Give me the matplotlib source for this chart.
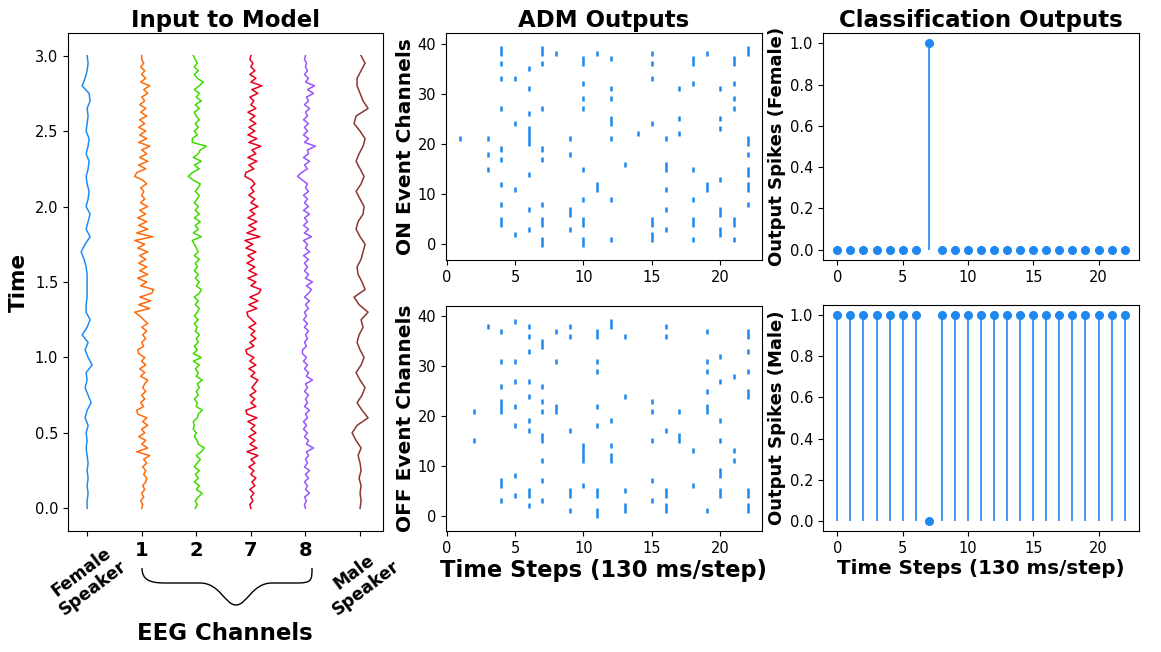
import numpy as np
import matplotlib
matplotlib.use("Agg")
import matplotlib.pyplot as plt
from matplotlib.path import Path
from matplotlib.patches import PathPatch

# ---- input signals (offsets, arbitrary units) ----
female_speaker = [0, 0, 1, 0, 1, 0, 1, 0, -1, 0, -1, 1, -2, 0, 4, 1, -2, 0, -1, 5, 1,
                  -2, 1, -5, 0, 3, -1, -1, 0, 0, 0, 0, -1, -3, -6, -2, 3, -1, 1, 3, -1,
                  1, 2, 0, -1, 1, 2, -1, 1, 2, -1, 0, 1, 0, 3, 2, -5, -2, 0, 1, 0]
male_speaker = [0, 1, 0, 1, -1, 1, 0, -2, 1, -4, -8, -3, 8, 2, -3, 2, 5, 0, -4, 1, 4,
                0, -3, -1, 3, 1, 8, -1, -6, 5, 2, -2, -3, 1, 3, 5, 0, -4, -2, 3, 4,
                0, -4, 1, 4, 0, -4, -1, 3, 5, 0, -6, -4, 8, 3, 0, -3, -3, 1, 5, 1]
eeg_ch1 = [0, 1, -1, 2, 0, 3, 1, 4, 5, 2, 4, 1, 5, 2, 8, -5, 6, 0, 4, -3,
           3, 0, 6, 1, 5, -4, -5, 2, -1, 3, 0, 4, 1, 3, 6, -1, 3, -2, 4, 0,
           3, -3, -4, 2, 0, 4, 1, 5, 0, 6, 2, -2, -7, 8, -3, 9, -2, 10, 12, -1,
           5, -4, 6, -2, 5, -3, 4, -2, 6, -4, 3, -7, 11, -5, 6, -3, 5, -4, 4, -2,
           6, -1, 3, 0, 2, -1, 5, 1, -7, -5, 4, -3, 6, -2, 5, 0, 8, -3, 5, -2,
           4, -3, 3, -2, 5, -1, 4, -2, 3, 0, 6, 2, 8, -1, 4, 0, 3, -1, 2, 0, 0]
eeg_ch2 = [-1, 1, -1, 2, 6, 0, 3, -2, 2, -1, 3, -2, 1, 4, 0, 5, 8, 2, 1, -2,
           0, -3, -2, -3, 1, 2, 6, 0, 1, -2, 2, 0, 3, 1, 6, 0, 2, -1, 3, -3,
           5, -3, 1, -2, 2, 0, 3, -1, 1, -2, 2, -2, 1, 3, -1, 2, -2, 3, 5, 0,
           3, -1, 2, -2, 1, -1, 3, -2, 2, 0, -2, -4, 5, -3, 2, -1, 4, -2, 3, -1,
           2, -2, 1, 3, -1, 2, 4, -3, -8, -4, 3, -2, 5, -3, 2, 4, 10, -4, -4, 1,
           -2, 2, -1, 3, 0, -2, 3, -1, 5, 0, 3, -2, 3, 7, 1, -2, 2, -2, 1, -1, -3]
eeg_ch7 = [0, -1, 2, 0, 3, -1, 4, 1, 5, 0, 3, -2, 4, 0, 7, -4, 6, -1, 4, -2,
           5, 0, 4, -3, 6, -4, -5, 5, 0, 4, -1, 5, 1, 4, 7, 0, 4, -2, 5, -1,
           3, -4, -5, 3, -1, 5, 0, 4, -2, 5, 1, -3, -4, 6, -2, 7, -1, 8, 10, 0,
           5, -3, 6, -2, 4, -4, 3, -3, 5, -5, 2, -6, 9, -4, 5, -2, 6, -3, 4, -1,
           7, 0, 4, -2, 3, 0, 4, 1, -6, -5, 3, -2, 6, -3, 5, 1, 10, -2, 6, -3,
           4, -2, 5, -1, 4, -3, 5, 0, 3, -1, 7, 1, 11, 0, 5, -1, 4, 0, 2, -1, 0]
eeg_ch8 = [0, -1, 1, -1, 4, 0, 2, -1, 3, 0, 4, -1, 2, 0, 3, 1, 8, 1, 3, -1,
           2, -2, 1, -2, 2, 0, 4, -1, 2, 0, 3, -1, 2, 0, 7, 1, 3, -1, 2, -2,
           1, -3, -3, 1, -1, 2, 0, 3, -1, 2, -2, 1, -1, 3, 0, 4, -1, 3, 6, 1,
           7, 0, 3, -1, 2, -1, 3, -2, 4, 0, 2, -2, 6, -1, 3, -2, 2, -1, 4, -2,
           3, -1, 2, -2, 3, 0, 2, -3, -8, -4, 2, -1, 4, -2, 3, 2, 10, -1, 3, -2,
           2, -1, 3, -2, 2, 0, 4, -1, 3, 1, 8, 2, 9, 0, 3, -1, 2, 0, 1, -1, 0]

trace_labels = ["Female\nSpeaker", "1", "2", "7", "8", "Male\nSpeaker"]
trace_colors = ["#1e8cf5", "#ff6a0a", "#3ddc00", "#e8001e", "#9a55ff", "#8c3535"]

# ---- ADM events: channels that fired at each time step ----
on_events = [[], [21], [], [15, 18, 21],
             [4, 5, 8, 12, 17, 19, 27, 33, 36, 38, 39],
             [2, 11, 24, 33],
             [3, 7, 14, 20, 21, 22, 23, 26, 31, 35],
             [0, 1, 4, 5, 8, 17, 19, 27, 36, 38, 39],
             [38],
             [3, 6, 7, 18, 21],
             [0, 1, 4, 5, 9, 15, 27, 29, 32, 36, 37],
             [11, 12, 38],
             [1, 9, 21, 24, 25, 29, 31, 37],
             [16], [22],
             [1, 2, 4, 5, 24, 33, 36, 38],
             [3, 7, 11, 15, 16, 21],
             [22, 25, 31],
             [1, 4, 5, 9, 15, 32, 36, 37],
             [11, 12, 38],
             [2, 3, 6, 7, 13, 23, 25, 31],
             [1, 4, 5, 27, 29, 32, 36, 37],
             [8, 11, 12, 14, 15, 18, 20, 21, 38, 39]]
off_events = [[], [], [15, 21], [38],
              [3, 6, 7, 21, 22, 23, 26, 31, 37],
              [4, 8, 18, 22, 27, 31, 39],
              [2, 4, 5, 17, 19, 24, 27, 33, 36, 38],
              [3, 7, 11, 15, 16, 21, 23, 26, 34, 35],
              [21, 22, 31, 37],
              [1, 4, 5, 17, 36, 38],
              [6, 11, 12, 13, 14],
              [0, 1, 4, 5, 18, 22, 29, 31, 36, 37],
              [11, 12, 14, 19, 38, 39],
              [1, 2, 5, 24, 36],
              [],
              [3, 7, 15, 21, 23],
              [1, 2, 4, 5, 17, 36, 38],
              [15, 16, 21],
              [6, 13],
              [1, 21, 22, 25, 29, 31, 37],
              [4, 5, 8, 9, 15, 19, 27, 32],
              [11, 13, 28],
              [1, 2, 4, 5, 24, 25, 29, 33, 36, 37]]

# ---- classifier output spikes ----
female_spikes = [0, 0, 0, 0, 0, 0, 0, 1, 0, 0, 0, 0, 0, 0, 0, 0, 0, 0, 0, 0, 0, 0, 0]
male_spikes = [1, 1, 1, 1, 1, 1, 1, 0, 1, 1, 1, 1, 1, 1, 1, 1, 1, 1, 1, 1, 1, 1, 1]

blue = "#1e88f0"
tick_fs = 10.5
W, H = 1161, 652
fig = plt.figure(figsize=(W / 100, H / 100), dpi=100)


def box(l, t, r, b):
    return [l / W, 1 - b / H, (r - l) / W, (b - t) / H]


def runs(chans):
    # group neighbouring channels so they draw as one unbroken stroke
    out = []
    for c in sorted(chans):
        if out and c == out[-1][1] + 1:
            out[-1][1] = c
        else:
            out.append([c, c])
    return out


# ---------------- left: input to model ----------------
ax = fig.add_axes(box(68, 33, 383, 531))
signals = [female_speaker, eeg_ch1, eeg_ch2, eeg_ch7, eeg_ch8, male_speaker]
scale = 0.0183
for i, (sig, col) in enumerate(zip(signals, trace_colors)):
    t = np.linspace(0, 3, len(sig))
    ax.plot(i + scale * np.array(sig), t, color=col, lw=1.1)
ax.set_xlim(-0.35, 5.42)
ax.set_xticks(range(6))
ax.set_xticklabels(trace_labels)
for k, lab in enumerate(ax.get_xticklabels()):
    if k in (0, 5):
        lab.set_rotation(37)
        lab.set_fontsize(12.3)
    else:
        lab.set_fontsize(14)
    lab.set_fontweight("bold")
ax.tick_params(axis="y", labelsize=tick_fs)
ax.set_ylabel("Time", fontsize=15.5, fontweight="bold", labelpad=4)
ax.set_title("Input to Model", fontsize=16.5, fontweight="bold", pad=4)

# curly brace under the EEG channels
pts = [(142, 568), (142, 580), (150, 583), (165, 583), (200, 583),
       (220, 583), (225, 605), (236, 605), (247, 605), (252, 583), (272, 583),
       (297, 583), (312, 583), (312, 580), (312, 568)]
codes = [Path.MOVETO, Path.CURVE4, Path.CURVE4, Path.CURVE4, Path.LINETO,
         Path.CURVE4, Path.CURVE4, Path.CURVE4, Path.CURVE4, Path.CURVE4, Path.CURVE4,
         Path.LINETO, Path.CURVE4, Path.CURVE4, Path.CURVE4]
brace = Path([(x / W, 1 - y / H) for x, y in pts], codes)
fig.add_artist(PathPatch(brace, transform=fig.transFigure, fc="none", ec="black", lw=1.0))
fig.text(225 / W, 1 - 633 / H, "EEG Channels", ha="center", va="center",
         fontsize=16.5, fontweight="bold")

# ---------------- middle: ADM rasters ----------------
ax_on = fig.add_axes(box(446, 33, 762, 260))
ax_off = fig.add_axes(box(446, 306, 762, 531))
for a, events, lab in [(ax_on, on_events, "ON Event Channels"),
                       (ax_off, off_events, "OFF Event Channels")]:
    for step, chans in enumerate(events):
        for lo, hi in runs(chans):
            a.vlines(step, lo - 0.5, hi + 0.5, color=blue, lw=1.8)
    a.set_xlim(-0.05, 23.05)
    a.set_ylim(-3.1, 42.1)
    a.set_xticks([0, 5, 10, 15, 20])
    a.set_yticks([0, 10, 20, 30, 40])
    a.tick_params(labelsize=tick_fs)
    a.set_ylabel(lab, fontsize=14.5, fontweight="bold", labelpad=2)
ax_on.set_title("ADM Outputs", fontsize=16.5, fontweight="bold", pad=4)
ax_off.set_xlabel("Time Steps (130 ms/step)", fontsize=16.3, fontweight="bold", labelpad=2)

# ---------------- right: classification outputs ----------------
ax_f = fig.add_axes(box(823, 33, 1139, 260))
ax_m = fig.add_axes(box(823, 305, 1139, 531))
for a, vals, lab in [(ax_f, female_spikes, "Output Spikes (Female)"),
                     (ax_m, male_spikes, "Output Spikes (Male)")]:
    steps = np.arange(len(vals))
    ml, sl, bl = a.stem(steps, vals, basefmt=" ")
    plt.setp(ml, color=blue, markersize=5.5)
    plt.setp(sl, color=blue, lw=1.2)
    a.set_xticks([0, 5, 10, 15, 20])
    a.set_yticks([0.0, 0.2, 0.4, 0.6, 0.8, 1.0])
    a.tick_params(labelsize=tick_fs)
    a.set_ylabel(lab, fontsize=13, fontweight="bold", labelpad=3)
ax_f.set_title("Classification Outputs", fontsize=16.5, fontweight="bold", pad=4)
ax_m.set_xlabel("Time Steps (130 ms/step)", fontsize=14.3, fontweight="bold", labelpad=2)

fig.savefig("out.png", dpi=100)
